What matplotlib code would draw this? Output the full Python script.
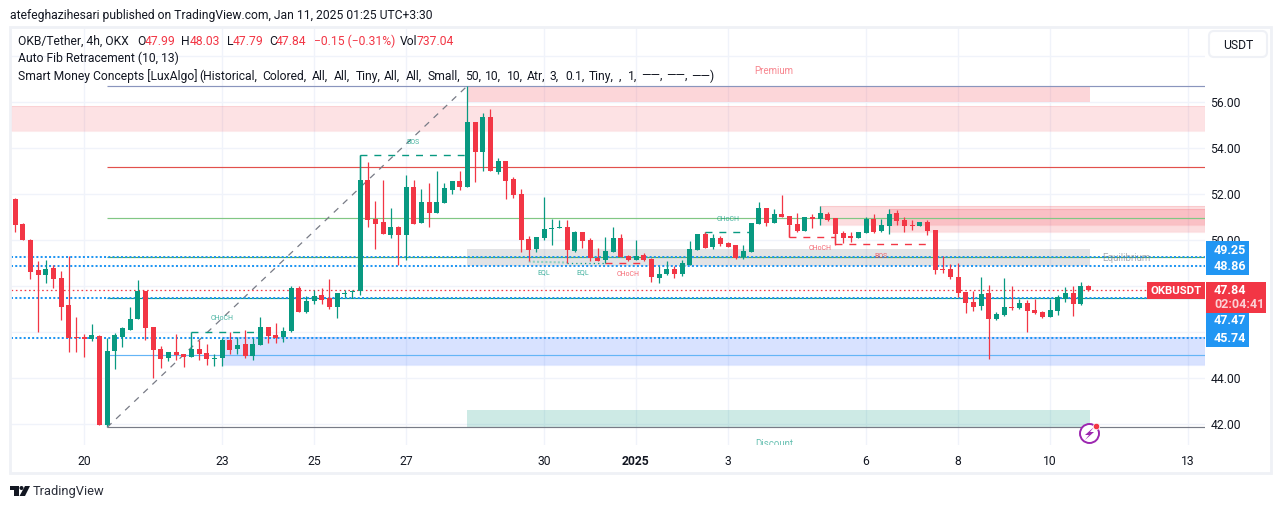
import matplotlib
matplotlib.use("Agg")
import matplotlib.pyplot as plt
from matplotlib.patches import Rectangle, FancyBboxPatch, Circle, Polygon

# ---------- data ----------
first_bar = -9   # bar index, 6 bars per day, 0 = Dec 20 00:00
opens = [51.78,50.70,50.00,48.70,48.48,48.78,48.35,47.17,45.78,45.78,45.70,45.83,41.96,45.17,45.78,46.09,46.57,47.78,46.22,45.26,44.87,45.13,45.04,44.91,45.26,45.09,44.83,44.87,45.65,45.26,
         45.48,44.96,45.43,46.22,45.87,45.78,46.06,47.91,46.87,47.35,47.61,47.48,47.09,47.65,47.74,47.78,52.61,50.91,50.78,50.22,50.57,50.22,52.30,50.74,51.65,51.17,51.61,52.17,52.57,52.30,55.13,53.83,55.35,52.96,53.43,52.65,52.00,
         50.04,49.61,50.09,50.48,50.52,50.57,49.52,50.35,50.00,49.22,49.13,49.48,50.09,49.30,49.13,49.35,49.17,48.35,48.52,48.74,48.52,48.91,49.57,50.26,49.70,50.09,49.87,49.78,49.26,49.48,50.70,
         51.39,50.74,51.13,51.04,50.70,50.39,51.00,50.91,51.13,50.96,50.30,50.17,50.09,50.30,50.91,50.39,50.61,51.17,50.87,50.65,50.61,50.78,50.43,48.74,48.74,
         48.39,47.74,47.30,47.13,47.70,46.57,46.74,47.09,47.04,47.26,46.96,46.87,46.65,46.91,47.43,47.70,47.22,47.99]
highs = [51.83,50.74,50.04,49.09,49.13,48.91,48.65,49.30,46.65,45.91,46.35,45.87,45.74,45.96,46.22,47.09,48.26,47.78,46.22,45.39,45.13,45.91,45.04,45.26,45.65,45.48,45.04,45.74,46.00,45.80,
         46.09,45.74,46.65,46.22,46.39,46.22,48.00,48.00,47.57,47.83,47.91,48.30,47.70,47.83,47.83,53.70,53.39,51.70,52.61,51.39,50.61,52.83,52.61,52.22,52.48,53.00,52.48,52.57,53.00,56.70,55.13,55.52,55.70,53.57,53.43,52.74,52.22,
         50.17,50.13,51.87,50.91,50.87,50.87,50.39,50.35,50.09,49.65,50.13,50.57,50.26,49.35,50.00,49.43,49.22,48.87,49.09,48.87,49.13,49.96,50.26,50.35,50.26,50.17,49.91,49.78,49.78,50.74,51.65,
         51.39,51.35,51.96,51.04,51.17,51.00,51.13,51.48,51.22,50.96,50.39,50.35,50.35,51.00,51.13,50.91,51.35,51.30,51.00,50.87,50.78,50.87,50.43,49.30,48.96,
         49.00,47.74,47.78,48.39,48.04,46.87,48.35,48.00,47.43,47.39,47.43,46.91,47.43,47.61,47.96,48.00,48.17,48.03]
lows = [50.35,50.00,48.30,46.00,48.13,47.91,46.52,45.13,45.13,44.91,45.60,41.96,41.90,44.39,45.35,46.09,46.57,45.65,44.00,44.43,44.74,44.78,44.48,44.91,44.78,44.57,44.52,44.52,45.04,45.04,
         44.87,44.78,45.43,45.52,45.52,45.57,45.98,46.87,46.83,47.22,47.22,47.00,46.61,47.52,47.48,47.61,50.57,49.61,50.26,50.09,48.91,49.13,50.70,50.74,50.57,51.17,51.61,52.00,52.17,52.30,52.52,53.00,53.00,52.87,51.78,51.83,49.48,
         49.09,49.48,50.00,49.78,50.52,49.00,49.48,49.65,49.09,49.09,49.00,49.48,49.26,49.09,49.13,49.09,48.17,48.13,48.48,48.35,48.43,48.91,49.57,49.65,49.61,49.74,49.70,49.17,49.17,49.48,50.70,
         50.61,50.74,51.00,50.13,50.35,50.39,50.52,50.65,50.83,49.78,49.87,49.91,50.09,50.30,50.30,50.35,50.26,50.65,50.35,50.43,50.61,50.22,48.52,48.57,48.30,
         47.52,46.83,46.91,46.96,44.83,46.52,46.70,46.96,47.00,46.00,46.78,46.61,46.65,46.74,47.30,46.70,47.17,47.79]
closes = [50.65,50.00,48.61,48.48,48.74,48.30,47.09,45.74,45.74,45.70,45.87,41.96,45.17,45.87,46.17,46.57,47.78,46.17,45.22,44.83,45.13,44.98,44.91,45.26,45.04,44.83,44.87,45.65,45.22,45.43,
          44.96,45.48,46.22,45.83,45.74,46.04,47.91,46.87,47.35,47.57,47.39,47.09,47.70,47.70,47.78,52.61,50.87,50.70,50.26,50.57,50.22,52.30,50.70,51.65,51.17,51.65,52.26,52.57,52.30,55.13,53.83,55.35,53.00,53.43,52.57,51.96,50.00,
          49.57,50.13,50.48,50.52,50.57,49.57,50.35,49.96,49.22,49.09,49.52,50.09,49.26,49.13,49.30,49.13,48.39,48.52,48.74,48.52,49.00,49.61,50.26,49.65,50.09,49.83,49.70,49.22,49.52,50.74,51.39,
          50.74,51.13,51.00,50.65,50.39,51.00,50.91,51.17,50.87,50.26,50.09,50.09,50.35,50.91,50.35,50.65,51.13,50.83,50.61,50.61,50.78,50.39,48.70,48.70,48.39,
          47.70,47.26,47.09,47.65,46.57,46.78,47.09,47.04,47.26,46.91,46.83,46.65,46.96,47.52,47.70,47.22,48.00,47.84]

price_ticks = [42, 44, 46, 48, 50, 52, 54, 56]
price_labels = ["42.00", "44.00", "", "48.00", "50.00", "52.00", "54.00", "56.00"]
time_bars = [0, 18, 30, 42, 60, 72, 84, 102, 114, 126, 144]
time_labels = ["20", "23", "25", "27", "30", "2025", "3", "6", "8", "10", "13"]

fib_levels = [56.70, 53.18, 50.95, 49.25, 47.47, 45.00, 41.85]
fib_colors = ["#8a95bd", "#e2504c", "#81c784", "#4caf50", "#089981", "#64b5f6", "#787b86"]
fib_start = 3
dotted_levels = [49.25, 48.86, 47.47, 45.74]
last_price = 47.84

# zones: start bar, end bar (None = right edge), top, bottom, colour, alpha
zones = [
    (50, 131.2, 56.70, 56.00, "#f23645", 0.20),
    (-10, None, 55.83, 54.74, "#f23645", 0.14),
    (50, 131.2, 49.61, 48.88, "#787b86", 0.21),
    (18, None, 45.78, 44.57, "#2962ff", 0.18),
    (50, 131.2, 42.61, 41.85, "#089981", 0.20),
    (96, None, 51.48, 50.65, "#f23645", 0.17),
    (105, None, 51.35, 50.35, "#f23645", 0.17),
]
# structure lines: bar from, bar to, level, corner-from level, colour
struct_lines = [
    (36, 50, 53.70, 52.61, "#089981"),
    (14, 23, 46.00, 45.26, "#089981"),
    (81, 87, 50.33, 50.26, "#089981"),
    (68, 73, 49.00, 49.00, "#f23645"),
    (92, 98, 50.13, 50.65, "#f23645"),
    (98, 110, 49.83, 50.26, "#f23645"),
]
tiny_labels = [
    (18, 46.57, "CHoCH", "#089981"), (42.9, 54.26, "BOS", "#089981"), (84, 50.87, "CHoCH", "#089981"),
    (60, 48.57, "EQL", "#089981"), (65, 48.57, "EQL", "#089981"), (71, 48.52, "CHoCH", "#f23645"),
    (96, 49.65, "CHoCH", "#f23645"), (104, 49.30, "BOS", "#f23645"),
]
zone_labels = [
    (90, 57.35, "Premium", "#f23645"), (136, 49.22, "Equilibrium", "#787b86"), (90, 41.13, "Discount", "#089981"),
]
smc_tokens = [
    (199, "(Historical,"), (262, "Colored,"), (312, "All,"), (333.5, "All,"), (356, "Tiny,"), (384, "All,"),
    (406, "All,"), (428, "Small,"), (465, "50,"), (485, "10,"), (506.5, "10,"), (527, "Atr,"), (550, "3,"),
    (565, "0.1,"), (589, "Tiny,"), (619, ","), (628, "1,"), (641, "\u2014\u2014,"), (666, "\u2014\u2014,"),
    (691, "\u2014\u2014)"),
]

# ---------- layout (pixels) ----------
W, H = 1281, 509
PX0, PX1, PY0, PY1 = 11, 1205, 28, 445
BAR_PX = 46 / 6
RED, GREEN, INK = "#f23645", "#089981", "#131722"
FONT = ["Roboto", "DejaVu Sans"]
plt.rcParams["font.family"] = FONT

fig = plt.figure(figsize=(W / 100, H / 100), dpi=100, facecolor="white")
ax = fig.add_axes([PX0 / W, 1 - PY1 / H, (PX1 - PX0) / W, (PY1 - PY0) / H])
ax.set_xlim((PX0 - 84) / BAR_PX, (PX1 - 84) / BAR_PX)
ax.set_ylim(42 + (424 - PY1) / 23, 42 + (424 - PY0) / 23)
xmin, xmax = ax.get_xlim()
for s in ax.spines.values():
    s.set_visible(False)
ax.set_axisbelow(True)
ax.yaxis.tick_right()
ax.set_yticks(price_ticks)
ax.set_yticklabels(price_labels, fontsize=8.7, color=INK)
ax.set_xticks(time_bars)
ax.set_xticklabels(time_labels, fontsize=8.7, color=INK)
ax.get_xticklabels()[5].set_fontweight("bold")
ax.tick_params(axis="both", length=0)
ax.tick_params(axis="y", pad=4)
ax.tick_params(axis="x", pad=7)
ax.grid(True, color="#f0f3fa", lw=1.0, zorder=0)
ax.axhline(58, color="#f0f3fa", lw=1.0, zorder=0)

# zones
for x0, x1, top, bot, col, a in zones:
    open_right = x1 is None
    x0 = max(x0, xmin)
    x1 = xmax if open_right else x1
    ax.add_patch(Rectangle((x0, bot), x1 - x0, top - bot, fc=col, alpha=a, ec="none", zorder=1))
    if open_right:
        ax.plot([x0, x1, x1, x0, x0], [bot, bot, top, top, bot], color=col, alpha=a * 0.7, lw=0.8, zorder=1)

# fib levels
for lev, col in zip(fib_levels, fib_colors):
    ax.plot([fib_start, xmax], [lev, lev], color=col, lw=0.85, zorder=2, solid_capstyle="butt")

# dotted price lines
for lev in dotted_levels:
    ax.axhline(lev, color="#2196f3", lw=1.45, ls=(0, (1, 1.1)), dash_capstyle="butt", zorder=2.2)
ax.plot([xmin, (1147 - 84) / BAR_PX], [last_price, last_price], color=RED, lw=0.9, ls=(0, (1.3, 2.2)),
        dash_capstyle="butt", zorder=2.2)

# auto fib diagonal
ax.plot([fib_start, 50], [fib_levels[-1], fib_levels[0]], color="#787b86", lw=0.9, ls=(0, (5, 5)), zorder=2.1)

# smart money structure lines
for a, b, lev, corner, col in struct_lines:
    ax.plot([a, a], [corner, lev], color=col, lw=1.0, zorder=2.3, solid_capstyle="butt")
    ax.plot([a, b], [lev, lev], color=col, lw=1.0, ls=(0, (5, 5)), zorder=2.3)
ax.plot([58, 63], [49.06, 49.02], color="#8fd0c4", lw=1.5, ls=(0, (1, 1)), zorder=2.3)
ax.plot([63, 68], [49.0, 49.0], color=GREEN, lw=0.9, ls=(0, (1, 2.5)), zorder=2.3)

# candles
for i, (o, h, l, c) in enumerate(zip(opens, highs, lows, closes)):
    k = first_bar + i
    col = GREEN if c >= o else RED
    ax.plot([k, k], [l, h], color=col, lw=0.9, zorder=3, solid_capstyle="butt")
    ax.bar(k, max(abs(c - o), 0.04), bottom=min(o, c), width=5 / BAR_PX, color=col, linewidth=0, zorder=3.1)

# indicator labels
for x, y, t, col in tiny_labels:
    ax.text(x, y, t, fontsize=5.0, color=col, alpha=0.75, ha="center", va="center", clip_on=True, zorder=4)
for x, y, t, col in zone_labels:
    ax.text(x, y, t, fontsize=7.0, color=col, alpha=0.6, ha="center", va="center", clip_on=True, zorder=4)

# ---------- overlay in pixels ----------
ov = fig.add_axes([0, 0, 1, 1], facecolor="none")
ov.set_xlim(0, W)
ov.set_ylim(H, 0)
ov.axis("off")


def txt(x, y, s, col=INK, size=8.7, ha="left", **kw):
    ov.text(x, y, s, color=col, fontsize=size, ha=ha, va="center", **kw)


def tag(x0, y0, x1, y1, col):
    ov.add_patch(Rectangle((x0, y0), x1 - x0, y1 - y0, fc=col, ec="none", zorder=5))


ov.add_patch(Rectangle((10, 27), 1261, 446, fc="none", ec="#eff1f6", lw=2))
ov.add_patch(FancyBboxPatch((1211, 33), 54, 22, boxstyle="round,pad=2,rounding_size=5", fc="white",
                            ec="#eff1f6", lw=1.5))
txt(1238, 45, "USDT", ha="center")

txt(10, 15, "atefeghazihesari published on TradingView.com, Jan 11, 2025 01:25 UTC+3:30")
txt(18, 41, "OKB/Tether, 4h, OKX")
for x, s, c in [(137, "O", INK), (145, "47.99", RED), (181.5, "H", INK), (190, "48.03", RED), (227, "L", INK),
                (233, "47.79", RED), (269, "C", INK), (276, "47.84", RED), (314.5, "\u22120.15 (\u22120.31%)", RED),
                (400, "Vol", INK), (417, "737.04", RED)]:
    txt(x, 41, s, c)
txt(18, 58, "Auto Fib Retracement (10, 13)")
txt(18, 76, "Smart Money Concepts [LuxAlgo]")
for x, s in smc_tokens:
    txt(x, 76, s)

# price tags
tag(1206, 241, 1249, 275, "#2196f3")
tag(1206, 313, 1249, 347, "#2196f3")
tag(1206, 282, 1266, 313, RED)
tag(1147, 282, 1205, 299, RED)
for y, s in [(250, "49.25"), (266, "48.86"), (321, "47.47"), (339, "45.74"), (291, "47.84")]:
    ov.text(1214, y, s, color="white", fontsize=9, fontweight="bold", va="center", zorder=6)
ov.text(1214, 305, "02:04:41", color="#fbd0d4", fontsize=9, fontweight="bold", va="center", zorder=6)
ov.text(1176, 291, "OKBUSDT", color="white", fontsize=8.2, fontweight="bold", ha="center", va="center", zorder=6)

# alert icon
ov.add_patch(Circle((1089.5, 433.5), 9.5, fc="white", ec="#9c27b0", lw=1.4, zorder=6))
ov.add_patch(Polygon([(1094, 427), (1085, 435), (1089, 435), (1085, 440), (1094, 432), (1090, 432)],
                     fc="#9c27b0", ec="none", zorder=7))
ov.add_patch(Circle((1096.5, 426.5), 3.2, fc=RED, ec="white", lw=0.5, zorder=8))

# TradingView mark
ov.add_patch(Polygon([(10, 486), (19, 486), (19, 496), (14, 496), (14, 490), (10, 490)], fc=INK, ec="none"))
ov.add_patch(Circle((21.5, 488), 2, fc=INK, ec="none"))
ov.add_patch(Polygon([(25, 486), (30, 486), (25, 496), (19.5, 496)], fc=INK, ec="none"))
txt(33, 491, "TradingView", "#2a2e39", 9.3)

fig.savefig("out.png", dpi=100, facecolor="white")
